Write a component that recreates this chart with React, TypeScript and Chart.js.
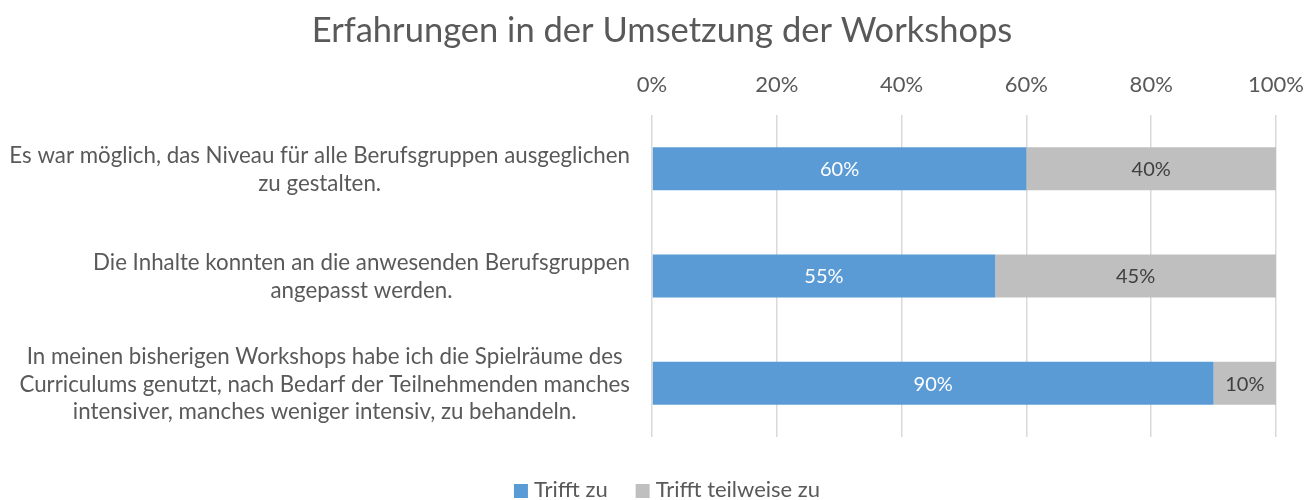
import React, { useEffect, useRef } from "react";
import { Chart, registerables } from "chart.js";

Chart.register(...registerables);

const title = "Erfahrungen in der Umsetzung der Workshops";
const categories: string[][] = [
  ["Es war möglich, das Niveau für alle Berufsgruppen ausgeglichen", "zu gestalten."],
  ["Die Inhalte konnten an die anwesenden Berufsgruppen", "angepasst werden."],
  [
    "In meinen bisherigen Workshops habe ich die Spielräume des",
    "Curriculums genutzt, nach Bedarf der Teilnehmenden manches",
    "intensiver, manches weniger intensiv, zu behandeln.",
  ],
];
const seriesNames = ["Trifft zu", "Trifft teilweise zu"];
const trifftZu = [60, 55, 90];
const trifftTeilweise = [40, 45, 10];
const seriesColors = ["#5B9BD5", "#BFBFBF"];
const labelColors = ["#FFFFFF", "#404040"];
const tickValues = [0, 20, 40, 60, 80, 100];

const FONT = "Lato, 'Open Sans', sans-serif";
const TEXT = "#595959";

const dataLabelPlugin = {
  id: "dataLabels",
  afterDatasetsDraw(chart: any) {
    const ctx = chart.ctx;
    ctx.save();
    ctx.font = `20px ${FONT}`;
    ctx.textAlign = "center";
    ctx.textBaseline = "middle";
    chart.data.datasets.forEach((ds: any, di: number) => {
      const meta = chart.getDatasetMeta(di);
      meta.data.forEach((el: any, i: number) => {
        const v = ds.data[i];
        const cx = (el.x + el.base) / 2;
        ctx.fillStyle = labelColors[di];
        ctx.fillText(`${v}%`, cx, el.y + 1);
      });
    });
    ctx.restore();
  },
};

const textPlugin = {
  id: "texts",
  afterDraw(chart: any) {
    const ctx = chart.ctx;
    const yScale = chart.scales.y;
    const right = chart.chartArea.left - 22;
    const lh = 27.5;
    ctx.save();
    // category labels
    ctx.font = `22.3px ${FONT}`;
    ctx.fillStyle = TEXT;
    ctx.textAlign = "center";
    ctx.textBaseline = "middle";
    categories.forEach((lines, i) => {
      const cy = yScale.getPixelForValue(i) + 1;
      const w = Math.max(...lines.map((l) => ctx.measureText(l).width));
      const cx = right - w / 2;
      const start = cy - ((lines.length - 1) * lh) / 2;
      lines.forEach((l, j) => ctx.fillText(l, cx, start + j * lh));
    });
    // title
    ctx.font = `34.5px ${FONT}`;
    ctx.fillText(title, 662, 31);
    // legend
    ctx.font = `22px ${FONT}`;
    ctx.textAlign = "left";
    const box = 14;
    const gap = 6;
    const spacing = 28;
    const widths = seriesNames.map((n) => box + gap + ctx.measureText(n).width);
    const total = widths.reduce((a, b) => a + b, 0) + spacing * (widths.length - 1);
    let x = 667 - total / 2;
    const ly = 490;
    seriesNames.forEach((n, i) => {
      ctx.fillStyle = seriesColors[i];
      ctx.fillRect(x, ly - box / 2 + 1, box, box);
      ctx.fillStyle = TEXT;
      ctx.fillText(n, x + box + gap, ly);
      x += widths[i] + spacing;
    });
    ctx.restore();
  },
};

export default function App() {
  const ref = useRef<HTMLCanvasElement>(null);
  useEffect(() => {
    if (!ref.current) return;
    const chart = new Chart(ref.current, {
      type: "bar",
      data: {
        labels: categories.map((c) => c.join(" ")),
        datasets: [
          {
            label: seriesNames[0],
            data: trifftZu,
            backgroundColor: seriesColors[0],
            barPercentage: 0.4,
            categoryPercentage: 1,
          },
          {
            label: seriesNames[1],
            data: trifftTeilweise,
            backgroundColor: seriesColors[1],
            barPercentage: 0.4,
            categoryPercentage: 1,
          },
        ],
      },
      options: {
        indexAxis: "y",
        animation: false,
        responsive: false,
        maintainAspectRatio: false,
        layout: { padding: { left: 0, right: 38, top: 60, bottom: 63 } },
        plugins: {
          title: { display: false },
          legend: { display: false },
          tooltip: { enabled: false },
        },
        scales: {
          x: {
            position: "top",
            stacked: true,
            min: 0,
            max: 100,
            afterBuildTicks: (scale: any) => {
              scale.ticks = tickValues.map((v) => ({ value: v }));
            },
            ticks: {
              color: TEXT,
              font: { family: FONT, size: 22 },
              padding: 0,
              callback: (v: any) => `${v}%`,
            },
            grid: {
              color: "#D9D9D9",
              lineWidth: 1.5,
              drawTicks: true,
              tickLength: 17,
              tickColor: "rgba(0,0,0,0)",
            },
            border: { display: false },
            afterFit: (scale: any) => {
              scale.height = 55;
            },
          },
          y: {
            stacked: true,
            ticks: { display: false },
            grid: { display: false },
            border: { display: false },
            afterFit: (scale: any) => {
              scale.width = 652;
            },
          },
        },
      },
      plugins: [dataLabelPlugin, textPlugin],
    });
    return () => chart.destroy();
  }, []);
  return (
    <div style={{ position: "fixed", left: 0, top: 0, width: 1314, height: 500, background: "#fff" }}>
      <canvas ref={ref} width={1314} height={500} />
    </div>
  );
}
